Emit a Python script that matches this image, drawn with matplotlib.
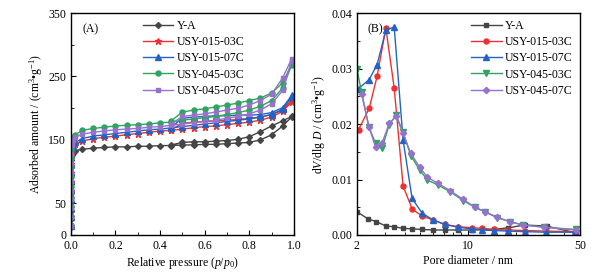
import matplotlib
matplotlib.use("Agg")
import matplotlib.pyplot as plt
from matplotlib.ticker import FixedLocator, MultipleLocator, FormatStrFormatter, NullFormatter, LogLocator

plt.rcParams['font.family'] = ['Liberation Serif', 'DejaVu Serif']
plt.rcParams['mathtext.fontset'] = 'custom'
plt.rcParams['mathtext.rm'] = 'Liberation Serif'
plt.rcParams['mathtext.it'] = 'Liberation Serif:italic'
plt.rcParams['font.size'] = 8.5

# ---------------- data: isotherms (panel A) ----------------
names = ["Y-A", "USY-015-03C", "USY-015-07C", "USY-045-03C", "USY-045-07C"]
colors = ["#454545", "#f03030", "#2363c3", "#2fa35f", "#9672cc"]

p_low = [0.0001, 0.0002, 0.0003, 0.0005, 0.0007, 0.001, 0.0013, 0.0017, 0.0022, 0.003]
p_ads = [0.01, 0.02, 0.05, 0.1, 0.15, 0.2, 0.25, 0.3, 0.35, 0.4, 0.45, 0.5, 0.55, 0.6,
         0.65, 0.7, 0.75, 0.8, 0.85, 0.9, 0.95, 0.99]
p_des = [0.99, 0.95, 0.9, 0.85, 0.8, 0.75, 0.7, 0.65, 0.6, 0.55, 0.5, 0.45]

ya_low = [12, 25, 38, 52, 66, 80, 94, 107, 118, 126]
ya_ads = [130, 133, 135, 137, 138, 139, 139, 140, 140, 141, 141, 142, 142, 143,
          143, 144, 145, 146, 150, 158, 172, 186]
ya_des = [187, 180, 172, 163, 155, 151, 149, 148, 147, 147, 146, 142]

r3_low = [14, 28, 42, 56, 70, 84, 98, 112, 124, 133]
r3_ads = [138, 143, 148, 152, 154, 156, 158, 160, 162, 164, 165, 167, 169, 171,
          172, 174, 176, 178, 181, 186, 195, 210]
r3_des = [213, 197, 190, 186, 184, 182, 181, 180, 179, 178, 176, 166]

r7_low = [14, 28, 42, 57, 72, 86, 100, 114, 126, 135]
r7_ads = [140, 146, 152, 156, 158, 160, 162, 164, 166, 167, 169, 171, 173, 175,
          177, 179, 181, 183, 186, 190, 198, 218]
r7_des = [220, 201, 193, 190, 189, 189, 188, 188, 187, 186, 184, 170]

g3_low = [15, 30, 45, 60, 76, 92, 108, 122, 136, 148]
g3_ads = [155, 158, 165, 168, 170, 172, 173, 174, 175, 177, 178, 181, 183, 185,
          187, 190, 193, 197, 203, 212, 232, 268]
g3_des = [270, 240, 224, 216, 212, 208, 205, 202, 199, 197, 194, 180]

g7_low = [14, 28, 42, 56, 70, 85, 100, 114, 128, 142]
g7_ads = [150, 154, 159, 162, 164, 166, 167, 168, 170, 171, 173, 175, 177, 179,
          181, 184, 187, 191, 197, 207, 228, 275]
g7_des = [278, 248, 222, 212, 205, 200, 197, 194, 191, 189, 187, 175]

iso_low = [ya_low, r3_low, r7_low, g3_low, g7_low]
iso_ads = [ya_ads, r3_ads, r7_ads, g3_ads, g7_ads]
iso_des = [ya_des, r3_des, r7_des, g3_des, g7_des]

# ---------------- data: pore size distributions (panel B) ----------------
ya_D = [2.0, 2.35, 2.65, 3.05, 3.4, 3.9, 4.45, 5.15, 6.0, 7.1, 8.6, 10.6, 14.5, 17.8, 22.6, 31, 47]
ya_v = [0.0042, 0.0029, 0.0024, 0.0016, 0.0015, 0.0012, 0.0011, 0.0010, 0.0009, 0.0009,
        0.0009, 0.0009, 0.0010, 0.0013, 0.0018, 0.0016, 0.0004]

r3_D = [2.05, 2.39, 2.68, 3.04, 3.43, 3.90, 4.46, 5.16, 6.03, 7.12, 8.6, 10.6, 12.1, 14.5,
        17.8, 22.6, 30.9, 46.5]
r3_v = [0.0190, 0.0228, 0.0286, 0.0373, 0.0265, 0.0088, 0.0046, 0.0034, 0.0027, 0.0019,
        0.0015, 0.0013, 0.0012, 0.0010, 0.0009, 0.0008, 0.0007, 0.0006]

r7_D = [2.05, 2.39, 2.68, 3.04, 3.43, 3.90, 4.44, 5.14, 6.03, 7.12, 8.6, 10.6, 12.1, 14.5,
        17.8, 22.6, 30.9, 46.5]
r7_v = [0.0264, 0.0280, 0.0307, 0.0369, 0.0375, 0.0171, 0.0066, 0.0039, 0.0027, 0.0019,
        0.0014, 0.0011, 0.0009, 0.0008, 0.0007, 0.0006, 0.0005, 0.0005]

g3_D = [2.0, 2.14, 2.38, 2.62, 2.88, 3.19, 3.53, 3.90, 4.36, 4.96, 5.54, 6.46, 7.68, 9.3,
        11.0, 12.65, 15.2, 18.2, 22, 30, 47]
g3_v = [0.0300, 0.0258, 0.0195, 0.0165, 0.0156, 0.0199, 0.0216, 0.0185, 0.0143, 0.0117,
        0.0099, 0.0090, 0.0078, 0.0062, 0.0050, 0.0042, 0.0031, 0.0024, 0.0018, 0.0014, 0.0010]

g7_D = [2.14, 2.38, 2.62, 2.88, 3.19, 3.53, 3.90, 4.36, 4.96, 5.54, 6.46, 7.68, 9.3,
        11.0, 12.65, 15.2, 18.2, 22, 30, 47]
g7_v = [0.0255, 0.0195, 0.0159, 0.0166, 0.0201, 0.0214, 0.0183, 0.0147, 0.0122, 0.0104,
        0.0093, 0.0080, 0.0064, 0.0050, 0.0042, 0.0032, 0.0024, 0.0018, 0.0014, 0.0009]

psd_D = [ya_D, r3_D, r7_D, g3_D, g7_D]
psd_v = [ya_v, r3_v, r7_v, g3_v, g7_v]

markers_a = ["D", "*", "^", "o", "s"]
msize_a = [3.0, 5.0, 4.0, 3.6, 3.4]
markers_b = ["s", "o", "^", "v", "D"]
msize_b = [3.2, 3.6, 4.0, 4.0, 3.2]

fig = plt.figure(figsize=(6.11, 2.75), dpi=100)
axA = fig.add_axes([0.116, 0.1455, 0.365, 0.807])
axB = fig.add_axes([0.584, 0.1455, 0.365, 0.807])

for i in range(5):
    x = p_low + p_ads + p_des
    y = iso_low[i] + iso_ads[i] + iso_des[i]
    axA.plot(x, y, color=colors[i], marker=markers_a[i], ms=msize_a[i], lw=1.0,
             label=names[i])

axA.set_xlim(0, 1.0)
axA.set_ylim(0, 350)
axA.xaxis.set_major_locator(MultipleLocator(0.2))
axA.xaxis.set_minor_locator(MultipleLocator(0.1))
axA.xaxis.set_major_formatter(FormatStrFormatter('%.1f'))
axA.yaxis.set_major_locator(FixedLocator([0, 50, 150, 250, 350]))
axA.yaxis.set_minor_locator(FixedLocator([100, 200, 300]))
axA.set_xlabel(r"Relative pressure ($p$/$p_0$)", labelpad=2)
axA.set_ylabel("Adsorbed amount / (cm$^3$•g$^{-1}$)", labelpad=2)
axA.text(0.05, 0.955, "(A)", transform=axA.transAxes, va='top', ha='left')
axA.legend(loc='upper center', bbox_to_anchor=(0.55, 1.0), frameon=False,
           handlelength=2.6, handletextpad=0.3, labelspacing=0.35, borderaxespad=0.2)

for i in range(5):
    axB.plot(psd_D[i], psd_v[i], color=colors[i], marker=markers_b[i], ms=msize_b[i],
             lw=1.0, label=names[i])

axB.set_xscale('log')
axB.set_xlim(2, 50)
axB.set_ylim(0, 0.04)
axB.xaxis.set_major_locator(FixedLocator([2, 10, 50]))
axB.xaxis.set_major_formatter(FormatStrFormatter('%g'))
axB.xaxis.set_minor_locator(LogLocator(base=10, subs=range(1, 10)))
axB.xaxis.set_minor_formatter(NullFormatter())
axB.yaxis.set_major_locator(MultipleLocator(0.01))
axB.yaxis.set_minor_locator(MultipleLocator(0.005))
axB.yaxis.set_major_formatter(FormatStrFormatter('%.2f'))
axB.set_xlabel("Pore diameter / nm", labelpad=2)
axB.set_ylabel(r"d$V$/dlg $D$ / (cm$^3$•g$^{-1}$)", labelpad=2)
axB.text(0.05, 0.955, "(B)", transform=axB.transAxes, va='top', ha='left')
axB.legend(loc='upper right', frameon=False, handlelength=2.6, handletextpad=0.3,
           labelspacing=0.35, borderaxespad=0.2)

for ax in (axA, axB):
    ax.tick_params(which='both', direction='in', top=False, right=False)
    ax.tick_params(which='major', length=3.5, width=0.8)
    ax.tick_params(which='minor', length=2, width=0.6)
    for s in ax.spines.values():
        s.set_linewidth(1.0)

fig.savefig("out.png", dpi=100)
